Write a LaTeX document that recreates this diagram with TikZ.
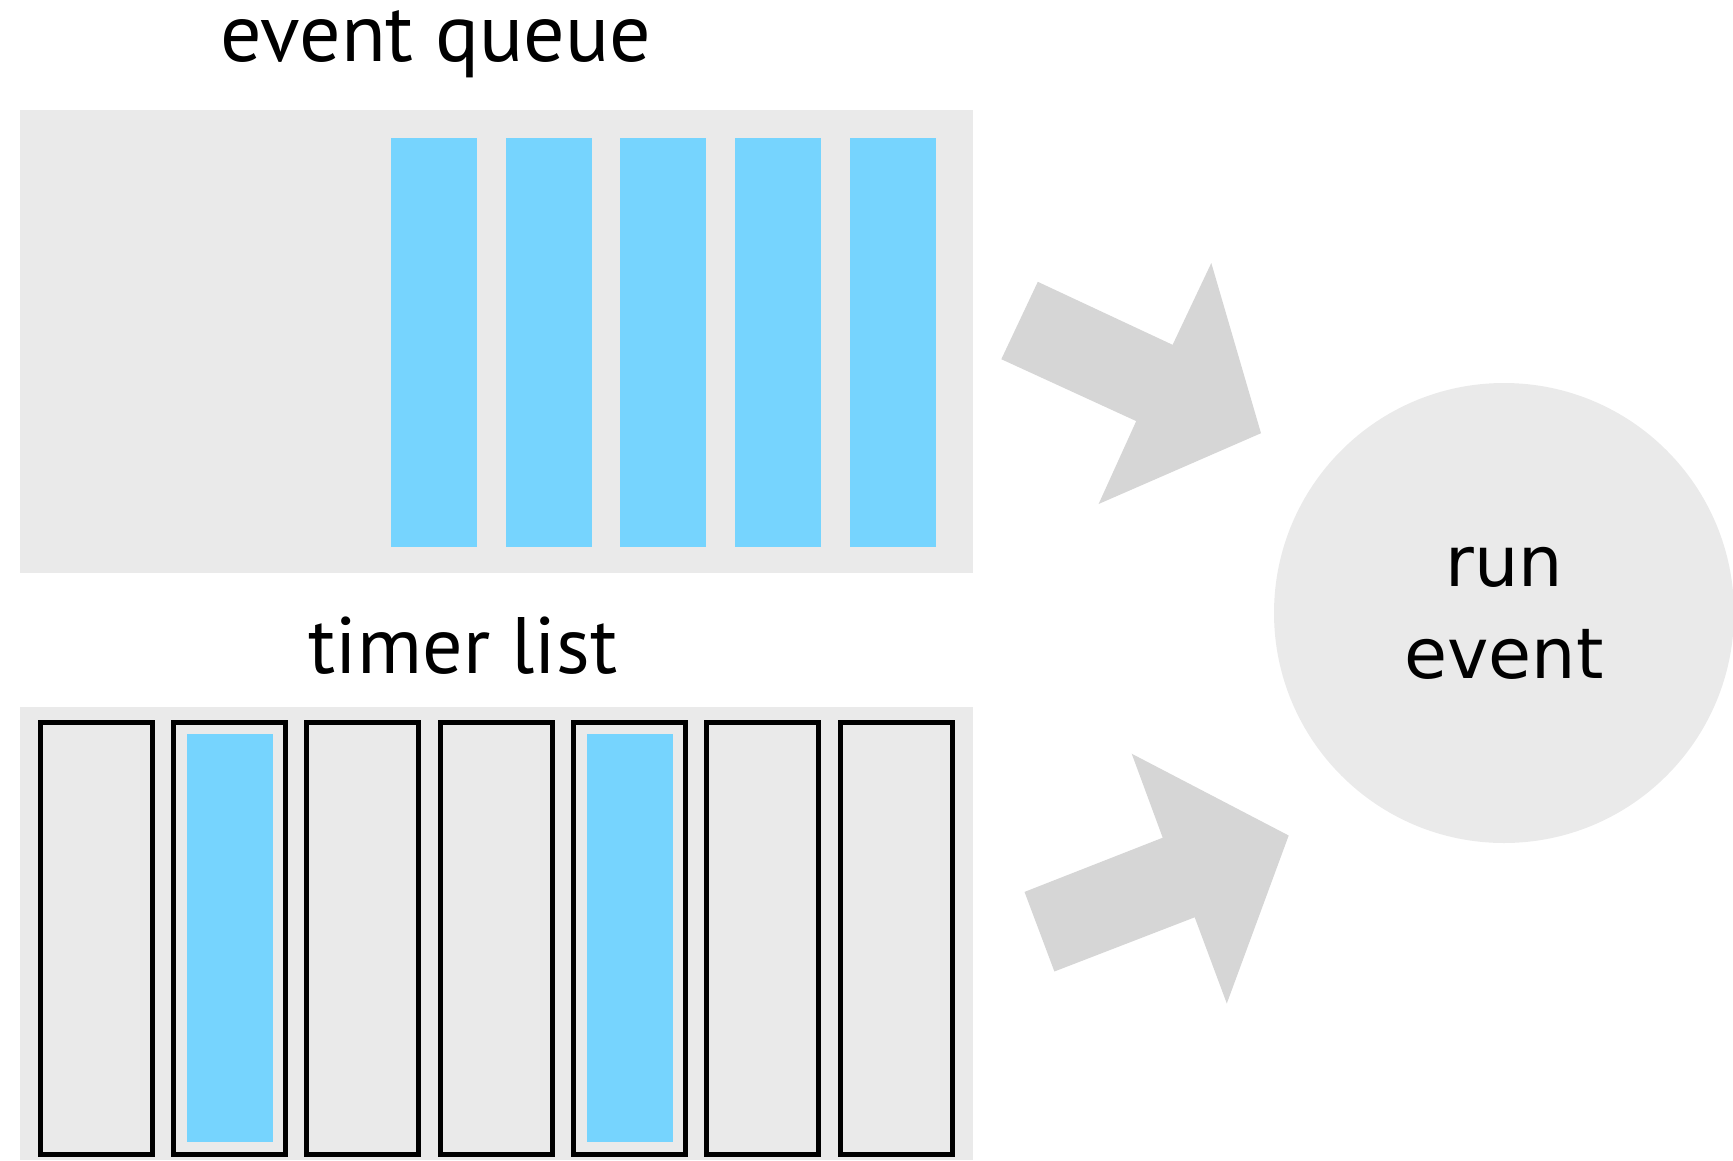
\documentclass[tikz,border=0pt]{standalone}
\usepackage{fontspec}
\setmainfont{PT Sans}
\newfontfamily\runfont{DejaVu Sans}
\usetikzlibrary{positioning}
\definecolor{qblue}{HTML}{76D4FE}
\definecolor{bggray}{HTML}{EAEAEA}
\definecolor{arrowgray}{HTML}{D6D6D6}
\tikzstyle{panel} = [rectangle, fill=bggray, inner sep=0pt]
\tikzstyle{ev} = [rectangle, fill=qblue, inner sep=0pt,
    minimum width=86pt]
\tikzstyle{slot} = [rectangle, draw=black, line width=5pt, fill=bggray,
    inner sep=0pt, minimum width=112pt, minimum height=432pt]
\tikzstyle{title} = [font=\fontsize{82}{90}\selectfont, inner sep=0pt, anchor=base]
\tikzstyle{fat} = [fill=arrowgray]

\begin{document}
\begin{tikzpicture}[x=1pt, y=-1pt]
    \useasboundingbox (0,0) rectangle (1733,1160);
    % Place nodes
    \node [panel, minimum width=953pt, minimum height=463pt] (queue) at (496.5,341.5) {};
    \node [title] (qlabel) at (436,61) {event queue};
    \foreach \i in {1,...,5}
        \node [ev, minimum height=409pt] (ev\i) at ({434+114.7*(\i-1)},342.5) {};

    \node [panel, minimum width=953pt, minimum height=453pt] (timers) at (496.5,933.5) {};
    \node [title, font=\fontsize{80}{90}\selectfont] (tlabel) at (463,673) {timer list};
    \foreach \i in {1,...,7}
        \node [slot] (slot\i) at ({96.2+133.35*(\i-1)},938) {};
    \node [ev, minimum height=408pt] (t2) at (slot2) {};
    \node [ev, minimum height=408pt] (t5) at (slot5) {};

    \node [circle, fill=bggray, minimum size=460pt, inner sep=0pt,
        align=center, font=\runfont\fontsize{70}{92}\selectfont] (run) at (1504,613) {run\\event};

    % Draw arrows
    \fill [fat] (1001.3,359.2) -- (1037.8,281.8) -- (1172.6,344.8) -- (1211.3,263.0)
        -- (1261.0,433.2) -- (1098.6,504.0) -- (1136.2,421.1) -- cycle;
    \fill [fat] (1024.5,891.9) -- (1162.7,837.7) -- (1131.7,753.7) -- (1288.7,835.5)
        -- (1226.8,1003.5) -- (1194.7,917.3) -- (1054.4,971.5) -- cycle;
\end{tikzpicture}
\end{document}
